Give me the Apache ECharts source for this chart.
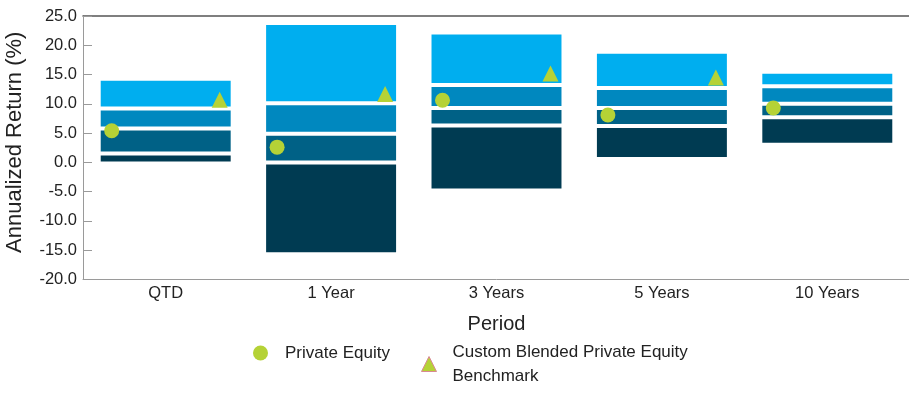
<!DOCTYPE html>
<html>
<head>
<meta charset="utf-8">
<script src="https://cdn.jsdelivr.net/npm/echarts@6/dist/echarts.min.js"></script>
<style>html,body{margin:0;padding:0;background:#fff}#c{width:909px;height:393px}</style>
</head>
<body>
<div id="c"></div>
<script>
const categories = ['QTD', '1 Year', '3 Years', '5 Years', '10 Years'];
// Universe percentile boundaries (%)
const p5  = [-0.2, -15.7, -4.8, 0.6, 3.0];
const p25 = [1.5, 0.0, 6.3, 6.2, 7.7];
const p50 = [5.8, 4.9, 9.3, 9.3, 10.0];
const p75 = [9.2, 10.1, 13.2, 12.7, 13.0];
const p95 = [14.3, 23.8, 22.2, 18.9, 15.5];
const privateEquity = [5.4, 2.6, 10.6, 8.1, 9.3];
const benchmark = [10.7, 11.7, 15.2, 14.5, null];
const yTicks = { min: -20, max: 25, interval: 5 };

const FONT = "'Liberation Sans', Arial, sans-serif";
const diff = (a, b) => a.map((v, i) => +(v - b[i]).toFixed(2));
const colors = ['#003b52', '#006186', '#0088bf', '#00aeef'];
const ranges = [diff(p25, p5), diff(p50, p25), diff(p75, p50), diff(p95, p75)];

const chart = echarts.init(document.getElementById('c'), null, { renderer: 'canvas' });

const barSeries = [{
  type: 'bar', name: 'base', stack: 'u', stackStrategy: 'all', barWidth: '81%',
  data: p5, itemStyle: { color: 'rgba(0,0,0,0)', borderWidth: 0 }, silent: true, z: 1
}].concat(ranges.map((d, i) => ({
  type: 'bar', name: 'q' + i, stack: 'u', stackStrategy: 'all', barWidth: '81%',
  data: d, itemStyle: { color: colors[i], borderColor: '#ffffff', borderWidth: 2 }, z: 2
})));

const BENCH = 'Custom Blended Private Equity Benchmark';
const legendText = { fontFamily: FONT, fontSize: 17, color: '#222', lineHeight: 24 };

chart.setOption({
  animation: false,
  textStyle: { fontFamily: FONT },
  grid: { left: 83, right: -1, top: 16, bottom: 113.5, containLabel: false, outerBoundsMode: 'none' },
  legend: [{
    data: [{ name: 'Private Equity', icon: 'circle' }],
    left: 248, top: 336, itemWidth: 15, itemHeight: 15,
    textStyle: Object.assign({ padding: [0, 0, 0, 12] }, legendText)
  }, {
    data: [{ name: BENCH, icon: 'triangle', itemStyle: { borderColor: '#d88a92', borderWidth: 1 } }],
    left: 416, top: 335, itemWidth: 15, itemHeight: 15,
    formatter: () => 'Custom Blended Private Equity\nBenchmark',
    textStyle: Object.assign({ padding: [0, 0, 0, 11] }, legendText)
  }],
  xAxis: [{
    type: 'category', data: categories, boundaryGap: true,
    axisLine: { onZero: false, lineStyle: { color: '#9a9a9a', width: 1 } },
    axisTick: { show: false },
    axisLabel: { fontFamily: FONT, fontSize: 16.5, color: '#222', margin: 5 },
    name: 'Period', nameLocation: 'middle', nameGap: 35,
    nameTextStyle: { fontFamily: FONT, fontSize: 20, color: '#222' }
  }, {
    type: 'category', data: categories, position: 'top',
    axisLine: { onZero: false, lineStyle: { color: '#555', width: 1.5 } },
    axisTick: { show: false }, axisLabel: { show: false }
  }],
  yAxis: {
    type: 'value', min: yTicks.min, max: yTicks.max, interval: yTicks.interval,
    axisLine: { show: true, onZero: false, lineStyle: { color: '#9a9a9a' } },
    axisTick: { show: true, inside: true, length: 9, lineStyle: { color: '#9a9a9a' } },
    splitLine: { show: false },
    axisLabel: { fontFamily: FONT, fontSize: 16.5, color: '#222', margin: 6, formatter: v => v.toFixed(1) },
    name: 'Annualized Return (%)', nameLocation: 'middle', nameGap: 57,
    nameTextStyle: { fontFamily: FONT, fontSize: 22, color: '#222', padding: [0, 0, 0, 11] }
  },
  series: barSeries.concat([
    {
      type: 'scatter', name: 'Private Equity', data: privateEquity, symbol: 'circle',
      symbolSize: 15, symbolOffset: [-54, 0], itemStyle: { color: '#b5d236', opacity: 1 }, z: 5
    },
    {
      type: 'scatter', name: BENCH, data: benchmark, symbol: 'triangle',
      symbolSize: 16, symbolOffset: [54, 0], itemStyle: { color: '#b5d236', opacity: 1 }, z: 5
    }
  ])
});
</script>
</body>
</html>
